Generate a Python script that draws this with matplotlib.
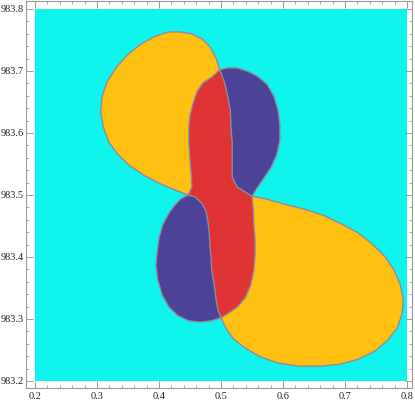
#!/usr/bin/env python3
"""Region plot: four lobes around a narrow central band."""

import matplotlib
matplotlib.use("Agg")
import matplotlib.pyplot as plt
from matplotlib.ticker import FixedLocator, MultipleLocator

plt.rcParams["font.family"] = ["Liberation Serif", "DejaVu Serif"]

# plot range
X_RANGE = [0.2, 0.8]
Y_RANGE = [983.2, 983.8]

X_TICKS = [0.2, 0.3, 0.4, 0.5, 0.6, 0.7, 0.8]
X_LABELS = ["0.2", "0.3", "0.4", "0.5", "0.6", "0.7", "0.8"]
Y_TICKS = [983.2, 983.3, 983.4, 983.5, 983.6, 983.7, 983.8]
Y_LABELS = ["983.2", "983.3", "983.4", "983.5", "983.6", "983.7", "983.8"]

# boundary curves, between the four junction points
# a: red / upper yellow (top junction -> left junction)
A_X = [0.498, 0.485, 0.471, 0.461, 0.455, 0.450, 0.448, 0.448, 0.450, 0.452, 0.453, 0.447]
A_Y = [983.702, 983.690, 983.681, 983.666, 983.648, 983.629, 983.610, 983.584,
       983.556, 983.532, 983.513, 983.500]
# b: red / upper blue (top junction -> right junction)
B_X = [0.498, 0.506, 0.511, 0.515, 0.516, 0.518, 0.518, 0.518, 0.526, 0.542, 0.550]
B_Y = [983.702, 983.681, 983.658, 983.637, 983.610, 983.584, 983.556, 983.529,
       983.513, 983.503, 983.498]
# c: upper blue outer edge (top junction -> right junction)
C_X = [0.498, 0.511, 0.526, 0.542, 0.558, 0.574, 0.585, 0.592, 0.595, 0.595,
       0.590, 0.581, 0.569, 0.558, 0.550]
C_Y = [983.702, 983.705, 983.705, 983.700, 983.692, 983.679, 983.660, 983.637,
       983.613, 983.589, 983.565, 983.545, 983.527, 983.511, 983.498]
# d: upper yellow outer edge (top junction -> left junction)
D_X = [0.498, 0.492, 0.482, 0.469, 0.453, 0.434, 0.415, 0.394, 0.373, 0.350, 0.331,
       0.316, 0.308, 0.306, 0.310, 0.319, 0.334, 0.353, 0.377, 0.402, 0.426, 0.447]
D_Y = [983.702, 983.721, 983.739, 983.752, 983.760, 983.763, 983.763, 983.756,
       983.745, 983.727, 983.706, 983.682, 983.658, 983.634, 983.610, 983.585,
       983.565, 983.547, 983.531, 983.518, 983.508, 983.500]
# e: red / lower blue (left junction -> bottom junction)
E_X = [0.447, 0.458, 0.469, 0.476, 0.479, 0.481, 0.482, 0.484, 0.485, 0.489, 0.492,
       0.495, 0.500]
E_Y = [983.500, 983.497, 983.487, 983.473, 983.456, 983.440, 983.419, 983.398,
       983.379, 983.355, 983.331, 983.315, 983.302]
# f: lower blue outer edge (left junction -> bottom junction)
F_X = [0.447, 0.435, 0.424, 0.415, 0.406, 0.400, 0.397, 0.395, 0.398, 0.405, 0.416,
       0.431, 0.448, 0.466, 0.484, 0.500]
F_Y = [983.500, 983.494, 983.482, 983.469, 983.452, 983.431, 983.408, 983.387,
       983.363, 983.339, 983.319, 983.305, 983.297, 983.295, 983.297, 983.302]
# g: red / lower yellow (right junction -> bottom junction)
G_X = [0.550, 0.552, 0.553, 0.555, 0.555, 0.553, 0.548, 0.539, 0.526, 0.513, 0.500]
G_Y = [983.498, 983.476, 983.452, 983.427, 983.403, 983.379, 983.355, 983.334,
       983.319, 983.310, 983.302]
# h: lower yellow outer edge (right junction -> bottom junction)
H_X = [0.550, 0.571, 0.603, 0.639, 0.668, 0.695, 0.721, 0.744, 0.765, 0.779, 0.789,
       0.794, 0.792, 0.784, 0.769, 0.748, 0.721, 0.692, 0.660, 0.624, 0.592, 0.563,
       0.539, 0.519, 0.508, 0.500]
H_Y = [983.498, 983.494, 983.485, 983.476, 983.466, 983.453, 983.439, 983.421,
       983.400, 983.379, 983.356, 983.331, 983.308, 983.285, 983.266, 983.248,
       983.235, 983.227, 983.224, 983.224, 983.229, 983.239, 983.253, 983.269,
       983.285, 983.302]

CYAN = "#0ff5ee"
YELLOW = "#ffc012"
RED = "#e03434"
BLUE = "#4c4296"
EDGE = "#8c8c9e"
FRAME = "#9a9a9a"


def rev(values):
    return values[::-1]


def main():
    fig = plt.figure(figsize=(4.15, 4.04), dpi=100)
    ax = fig.add_axes([26 / 415, 16 / 404, 386 / 415, 387 / 404])

    ax.fill_between(X_RANGE, Y_RANGE[0], Y_RANGE[1], color=CYAN, lw=0, zorder=0)

    regions = [
        (D_X + rev(A_X), D_Y + rev(A_Y), YELLOW),
        (A_X + E_X + rev(G_X) + rev(B_X), A_Y + E_Y + rev(G_Y) + rev(B_Y), RED),
        (B_X + rev(C_X), B_Y + rev(C_Y), BLUE),
        (E_X + rev(F_X), E_Y + rev(F_Y), BLUE),
        (G_X + rev(H_X), G_Y + rev(H_Y), YELLOW),
    ]
    for xs, ys, color in regions:
        ax.fill(xs, ys, color=color, lw=0, zorder=1)

    for xs, ys in [(A_X, A_Y), (B_X, B_Y), (C_X, C_Y), (D_X, D_Y),
                   (E_X, E_Y), (F_X, F_Y), (G_X, G_Y), (H_X, H_Y)]:
        ax.plot(xs, ys, color=EDGE, lw=1.0, solid_joinstyle="round", zorder=2)

    ax.set_xlim(0.1855, 0.808)
    ax.set_ylim(983.1887, 983.8129)

    ax.xaxis.set_major_locator(FixedLocator(X_TICKS))
    ax.set_xticklabels(X_LABELS)
    ax.yaxis.set_major_locator(FixedLocator(Y_TICKS))
    ax.set_yticklabels(Y_LABELS)
    ax.xaxis.set_minor_locator(MultipleLocator(0.02))
    ax.yaxis.set_minor_locator(MultipleLocator(0.02))

    ax.tick_params(which="both", direction="in", top=True, right=True,
                   color=FRAME, labelsize=7.4, labelcolor="#222222")
    ax.tick_params(which="major", length=5, width=0.7, pad=1.5)
    ax.tick_params(axis="x", which="major", pad=3)
    ax.tick_params(which="minor", length=2.5, width=0.6)
    for spine in ax.spines.values():
        spine.set_color(FRAME)
        spine.set_linewidth(0.8)

    fig.savefig("out.png", dpi=100)
    plt.close(fig)


if __name__ == "__main__":
    main()
